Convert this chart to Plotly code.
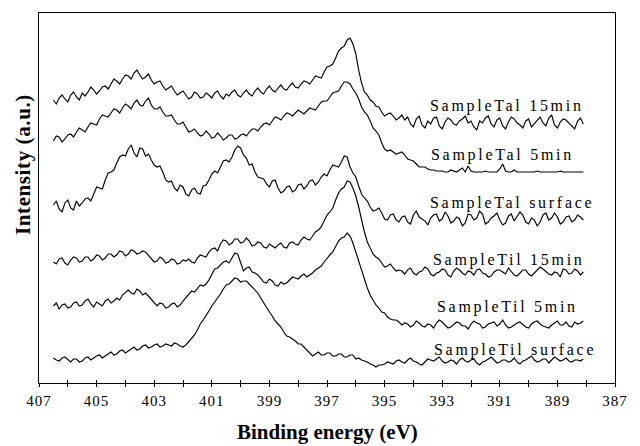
import numpy as np
import plotly.graph_objects as go

# Binding energy sampling (eV), 0.1 eV steps from 406.5 to 388.1
energy = np.round(406.5 - 0.1 * np.arange(185), 1)

# Intensities (a.u., vertically offset as in the figure).
# "_a" = readings at 406.5, 406.3, ...; "_b" = readings at 406.4, 406.2, ...
ta1_15min_a = [300,302,301,305,303,307,308,310,309,314,316,319,321,324,327,325,323,320,318,314,
               312,309,307,305,303,306,303,305,307,304,306,308,305,307,306,309,308,311,310,312,
               311,314,313,316,318,320,323,328,334,342,352,360,356,330,308,300,294,288,286,284,282,
               280,276,281,275,279,282,274,278,280,275,281,277,273,279,282,276,280,274,278,281,
               275,279,273,280,277,282,275,278,280,274,279,276]
ta1_15min_b = [296,305,298,308,300,304,313,306,313,311,321,316,325,321,330,321,326,316,319,310,
               314,305,309,301,308,302,307,302,309,301,304,310,303,310,304,312,306,314,308,315,
               310,317,312,319,316,324,322,333,336,349,354,362,346,317,305,298,293,284,287,280,
               285,283,273,284,272,276,283,271,282,276,279,284,279,270,277,284,273,282,271,283,
               277,272,281,276,283,274,285,272,281,277,271,282]

ta1_5min_a = [259,263,261,266,268,270,273,276,281,284,287,290,292,294,297,295,299,295,291,288,
              284,280,276,273,269,267,265,266,263,264,262,265,262,266,268,271,273,277,279,282,
              284,286,287,288,289,291,294,299,303,308,314,318,311,301,288,279,269,257,249,248,
              247,245,240,236,233,231,230,229,
              228,230,228,232,234,228,228,229,228,228,236,228,230,228,228,228,229,228,228,228,229,228,228,228,228]
ta1_5min_b = [264,258,265,263,272,268,277,275,285,283,291,287,296,291,300,294,302,291,293,284,
              285,276,278,268,271,264,269,262,267,260,265,261,265,264,271,269,276,275,283,280,
              287,284,290,286,292,290,298,299,307,309,318,316,307,293,285,272,265,251,250,246,
              248,241,239,233,233,230,229,229,
              228,229,230,228,229,228,228,228,228,231,229,228,228,228,228,228,228,228,228,228,228,228,228,228]

ta1_surface_a = [195,191,197,192,199,197,202,206,212,220,228,237,245,251,247,252,244,240,233,228,
                 218,212,215,206,210,207,214,220,229,233,240,243,254,245,235,228,222,216,219,212,
                 209,214,210,216,214,220,218,226,230,234,238,243,227,214,202,193,190,
                 187,180,186,178,184,176,189,181,175,185,179,188,177,183,174,186,180,189,176,182,
                 187,175,184,179,188,178,182,174,185,180,187,176,183,178,185,180]
ta1_surface_b = [199,188,200,190,194,201,199,213,211,227,230,243,244,255,243,251,246,235,234,220,
                 219,209,213,204,212,206,215,226,227,239,238,250,252,242,236,223,221,213,220,207,
                 213,208,215,211,219,215,223,224,235,233,244,233,223,206,199,189,192,181,185,180,
                 183,178,185,183,179,182,186,181,184,179,181,177,185,182,186,178,184,180,177,186,
                 183,185,176,180,178,187,182,183,178,184,180,183]

ti1_15min_a = [138,141,137,140,142,139,143,141,144,142,146,145,148,146,149,147,148,142,139,141,
               138,140,137,139,138,142,144,148,152,156,159,157,161,158,159,155,157,152,154,155,
               153,157,156,160,161,164,170,179,188,200,211,219,212,193,168,152,143,137,134,132,
               130,126,132,125,129,131,124,128,130,123,132,127,129,125,131,126,124,130,128,132,
               125,127,130,124,129,131,126,128,123,130,127,129,128]
ti1_15min_b = [136,142,135,143,138,143,139,145,140,146,143,149,144,150,146,149,145,138,143,137,
               141,136,140,141,137,145,143,151,149,160,155,161,157,162,154,158,153,156,152,157,
               152,158,155,163,160,168,173,185,192,207,213,218,204,180,158,146,141,133,136,129,
               129,130,127,128,133,126,127,131,125,129,130,125,128,130,127,123,128,130,126,129,
               124,130,126,127,133,128,125,127,131,126,131,125]

ti1_5min_a = [94,91,96,93,98,95,101,93,96,99,97,102,105,110,106,109,107,101,94,96,
              93,97,95,102,109,111,114,120,131,135,139,142,146,129,133,127,121,117,119,114,
              116,120,122,124,123,127,132,138,145,154,162,167,157,138,120,105,95,88,83,80,78,
              77,73,79,74,76,72,80,75,73,78,74,71,79,76,73,77,74,80,72,75,
              78,73,76,79,74,72,77,75,78,73,76,79]
ti1_5min_b = [97,95,92,97,94,99,96,98,94,101,99,100,108,107,111,105,104,97,97,92,
              96,93,99,106,108,115,116,126,132,138,137,147,137,132,128,125,118,121,115,118,
              117,123,121,126,125,130,134,142,148,159,163,164,148,128,112,100,92,87,81,80,
              75,76,75,77,73,75,77,78,72,76,77,74,76,77,72,76,78,76,75,73,
              77,75,72,78,76,73,75,79,75,74,78,77]

ti1_surface_a = [42,39,43,38,41,39,43,42,45,44,48,46,50,49,53,51,55,53,56,54,
                 55,57,54,55,61,70,80,89,98,106,115,119,121,119,116,111,102,92,84,76,
                 68,63,59,56,50,44,48,45,47,44,46,43,45,42,39,36,33,35,38,36,
                 40,37,42,38,35,41,39,43,37,40,36,42,38,41,35,39,43,37,40,38,
                 42,36,40,44,38,41,37,43,39,42,38,40,41]
ti1_surface_b = [40,42,40,41,38,42,40,44,42,46,45,49,47,51,50,54,52,55,53,56,
                 54,56,53,58,65,76,84,94,101,111,116,122,118,119,113,107,97,88,79,73,
                 64,61,56,53,47,46,45,47,44,46,43,45,41,40,38,35,35,36,37,39,
                 38,40,39,36,38,40,41,39,38,39,40,39,40,37,38,41,40,38,40,39,
                 38,39,42,40,39,41,40,41,40,39,40,39]

labels = ["SampleTal 15min", "SampleTal 5min", "SampleTal surface",
          "SampleTil 15min", "SampleTil 5min", "SampleTil surface"]
label_x = [393.5, 393.45, 393.5, 393.4, 393.25, 393.35]
label_y = [294, 245, 197, 140, 93, 50]

x_ticks = [407, 405, 403, 401, 399, 397, 395, 393, 391, 389, 387]


def interleave(a, b):
    out = []
    for i, v in enumerate(a):
        out.append(v)
        if i < len(b):
            out.append(b[i])
    return out


series = [interleave(ta1_15min_a, ta1_15min_b),
          interleave(ta1_5min_a, ta1_5min_b),
          interleave(ta1_surface_a, ta1_surface_b),
          interleave(ti1_15min_a, ti1_15min_b),
          interleave(ti1_5min_a, ti1_5min_b),
          interleave(ti1_surface_a, ti1_surface_b)]

fig = go.Figure()
for s in series:
    n = min(len(s), len(energy))
    fig.add_trace(go.Scatter(x=energy[:n], y=s[:n], mode="lines",
                             line=dict(color="black", width=1.15), showlegend=False,
                             hoverinfo="skip"))
# invisible trace so the overlay axis (inner halves of the tick marks) is drawn
fig.add_trace(go.Scatter(x=[400], y=[200], xaxis="x2", mode="markers",
                         marker=dict(opacity=0), showlegend=False, hoverinfo="skip"))

serif = "Liberation Serif"
annots = []
for t, xx, yy in zip(labels, label_x, label_y):
    annots.append(dict(x=xx, y=yy, xref="x", yref="y",
                       text='<span style="letter-spacing:2.7px">' + t + '</span>',
                       showarrow=False, xanchor="left", yanchor="middle",
                       font=dict(family=serif, size=16, color="black")))
annots.append(dict(x=0.5, y=-0.132, xref="paper", yref="paper",
                   text="<b>Binding energy (eV)</b>", showarrow=False,
                   xanchor="center", yanchor="middle",
                   font=dict(family=serif, size=21, color="black")))
annots.append(dict(x=-0.029, y=0.59, xref="paper", yref="paper",
                   text='<b><span style="letter-spacing:0.6px">Intensity (a.u.)</span></b>',
                   showarrow=False, textangle=-90,
                   xanchor="center", yanchor="middle",
                   font=dict(family=serif, size=21, color="black")))

fig.update_layout(
    width=640, height=446,
    margin=dict(l=39, r=16, t=13, b=63),
    paper_bgcolor="white", plot_bgcolor="white",
    annotations=annots,
    xaxis=dict(range=[407, 387], tickvals=x_ticks,
               ticktext=['<span style="letter-spacing:1px">' + str(v) + '</span>' for v in x_ticks],
               ticks="outside", ticklen=3, tickwidth=1, tickcolor="black",
               minor=dict(dtick=1, tick0=387, ticks="outside", ticklen=3, tickcolor="black"),
               showline=True, linecolor="black", linewidth=1, mirror=True,
               showgrid=False, zeroline=False, ticklabelstandoff=1,
               tickfont=dict(family=serif, size=15, color="black")),
    xaxis2=dict(range=[407, 387], overlaying="x", anchor="y", side="bottom",
                tickvals=list(range(387, 408)), ticks="inside", ticklen=3,
                tickcolor="black", showticklabels=False, showgrid=False,
                zeroline=False, showline=False),
    yaxis=dict(range=[17, 387], showticklabels=False, ticks="", showgrid=False,
               zeroline=False, showline=True, linecolor="black", linewidth=1, mirror=True),
)

fig.write_html("out.html")
